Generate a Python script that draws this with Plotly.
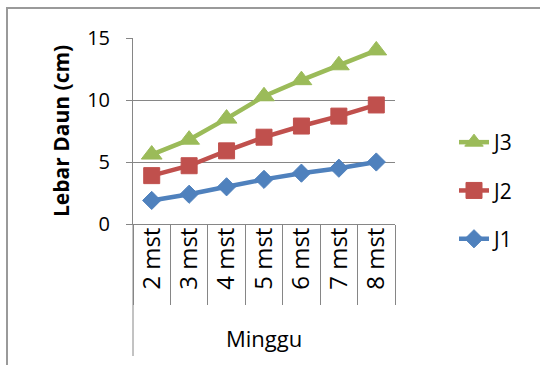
import plotly.graph_objects as go

# Data: leaf width (cm) per week after planting
weeks = ["2 mst", "3 mst", "4 mst", "5 mst", "6 mst", "7 mst", "8 mst"]
j1 = [1.9, 2.4, 3.0, 3.6, 4.1, 4.5, 5.0]
j2 = [3.9, 4.7, 5.9, 7.0, 7.9, 8.7, 9.6]
j3 = [5.6, 6.8, 8.5, 10.3, 11.6, 12.8, 14.0]
y_ticks = [0, 5, 10, 15]

W, H = 540, 365
L, R, T, B = 133, 145, 38, 141
PW, PH = W - L - R, H - T - B
FONT = "Open Sans"
GRAY = "#868686"


def px_x(p):
    return (p - L) / PW


def px_y(p):
    return (H - B - p) / PH


# listed top-to-bottom as they appear in the legend
series = [
    ("J3", j3, "#9BBB59", "triangle-up", 18),
    ("J2", j2, "#C0504D", "square", 16),
    ("J1", j1, "#4F81BD", "diamond", 14),
]

fig = go.Figure()
for name, vals, color, symbol, size in series:
    fig.add_trace(go.Scatter(
        x=weeks, y=vals, name=name, mode="lines+markers",
        legendgroup=name,
        line=dict(color=color, width=4.5),
        marker=dict(symbol=symbol, size=size, color=color,
                    line=dict(color=color, width=1)),
    ))

fig.update_layout(
    width=W, height=H,
    margin=dict(l=L, r=R, t=T, b=B),
    paper_bgcolor="white", plot_bgcolor="white",
    font=dict(family=FONT, color="black", size=20),
    showlegend=True,
    legend=dict(
        x=px_x(454), y=px_y(122), xanchor="left", yanchor="top",
        traceorder="grouped", tracegroupgap=18,
        font=dict(family=FONT, size=21), bgcolor="rgba(0,0,0,0)",
    ),
    xaxis=dict(
        type="category", categoryorder="array", categoryarray=weeks,
        range=[-0.5, len(weeks) - 0.5],
        showgrid=False, showline=True, linecolor=GRAY, linewidth=1,
        ticks="outside", tickson="boundaries", ticklen=80,
        tickcolor=GRAY, tickwidth=1,
        tickangle=-90, tickfont=dict(family=FONT, size=24),
        ticklabelstandoff=-7,
        zeroline=False,
    ),
    yaxis=dict(
        range=[0, 15], tickvals=y_ticks,
        showgrid=True, gridcolor=GRAY, gridwidth=1,
        showline=True, linecolor=GRAY, linewidth=1,
        ticks="outside", ticklen=6, tickcolor=GRAY, tickwidth=1,
        tickfont=dict(family=FONT, size=20),
        ticklabelstandoff=12,
        zeroline=False,
    ),
    shapes=[
        # outer chart border
        dict(type="rect", xref="paper", yref="paper",
             x0=px_x(7), x1=px_x(560), y0=px_y(380), y1=px_y(8),
             line=dict(color="#9a9a9a", width=2), fillcolor="rgba(0,0,0,0)",
             layer="below"),
        # outer category group boundary
        dict(type="line", xref="paper", yref="paper",
             x0=0, x1=0, y0=0, y1=px_y(356),
             line=dict(color=GRAY, width=1)),
    ],
    annotations=[
        dict(text="<b>Lebar Daun (cm)</b>", textangle=-90,
             xref="paper", yref="paper", x=px_x(61), y=0.5,
             xanchor="center", yanchor="middle", showarrow=False,
             font=dict(family=FONT, size=21)),
        dict(text="Minggu", xref="paper", yref="paper",
             x=0.5, y=px_y(338), xanchor="center", yanchor="middle",
             showarrow=False, font=dict(family=FONT, size=22)),
    ],
)

fig.write_html("out.html")
